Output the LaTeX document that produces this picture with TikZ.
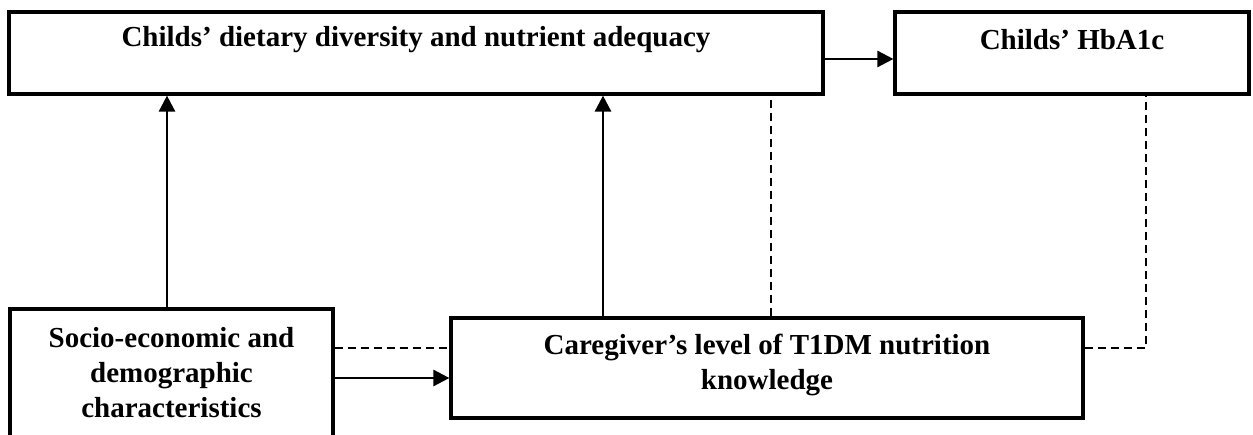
\documentclass[tikz,border=0pt]{standalone}
\usepackage{fontspec}
\setmainfont{Liberation Serif}
\usetikzlibrary{arrows.meta,calc}
\begin{document}
\begin{tikzpicture}[x=1pt,y=1pt,
 box/.style={draw, line width=3.2pt, rectangle, inner sep=0pt},
 lbl/.style={font=\fontsize{29}{35}\selectfont\bfseries, align=center, inner sep=0pt},
 arr/.style={line width=2.6pt, -{Triangle[length=16pt,width=16pt]}},
 dsh/.style={line width=2.2pt, dash pattern=on 8pt off 5pt}]
\useasboundingbox (0,0) rectangle (1253,434);
\clip (0,0) rectangle (1253,434);
% boxes
\node[box, minimum width=814pt, minimum height=82pt] (diet) at (416,381) {};
\node[box, minimum width=354pt, minimum height=82pt] (hba) at (1072,381) {};
\node[box, minimum width=323pt, minimum height=151pt] (socio) at (171.5,49.5) {};
\node[box, minimum width=632pt, minimum height=100pt] (care) at (767,66) {};
% texts
\node[lbl] (tdiet) at (416,394) {Childs’ dietary diversity and nutrient adequacy};
\node[lbl] (thba) at (1072,394) {Childs’ HbA1c};
\node[lbl] (tsocio) at (171.5,61) {Socio-economic and\\demographic\\characteristics};
\node[lbl] (tcare) at (767,69.5) {Caregiver’s level of T1DM nutrition\\knowledge};
% guides
\coordinate (gA) at (167,0);
\coordinate (gB) at (603,0);
\coordinate (gC) at (771,0);
\coordinate (gD) at (1146,0);
\coordinate (h1) at (0,375);
\coordinate (h2) at (0,86);
\coordinate (h3) at (0,56);
% connectors
\draw[arr] (diet.east |- h1) -- (hba.west |- h1);
\draw[arr] (gA |- socio.north) -- (gA |- diet.south);
\draw[arr] (gB |- care.north) -- (gB |- diet.south);
\draw[dsh] (gC |- care.north) -- (gC |- diet.south);
\draw[dsh] (socio.east |- h2) -- (care.west |- h2);
\draw[arr] (socio.east |- h3) -- (care.west |- h3);
\draw[dsh] (care.east |- h2) -| (gD |- hba.south);
\end{tikzpicture}
\end{document}
